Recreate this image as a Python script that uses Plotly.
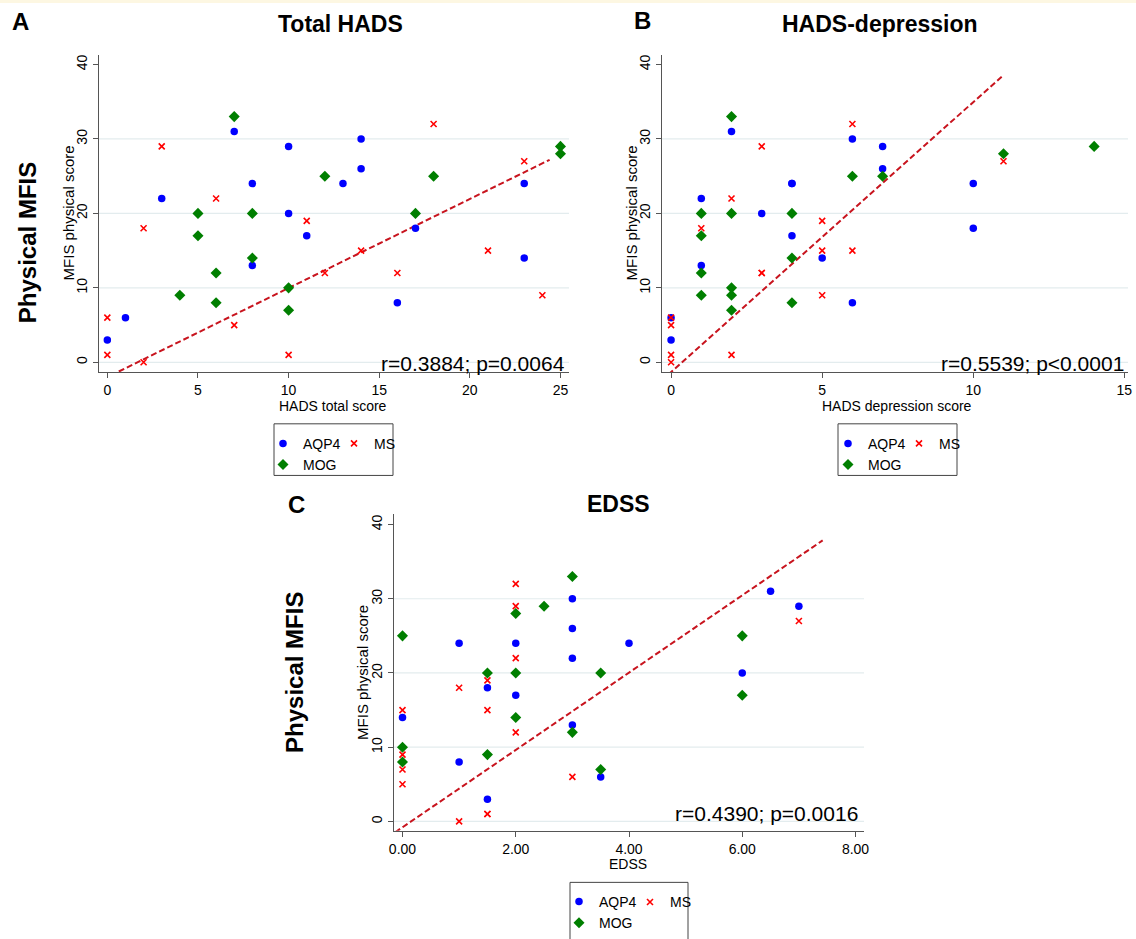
import plotly.graph_objects as go

W, H = 1136, 939

# ---------------- data ----------------
# Panel A: HADS total score vs MFIS physical score
a_aqp4_x = [0, 1, 3, 7, 8, 8, 10, 10, 11, 13, 14, 14, 16, 17, 23, 23]
a_aqp4_y = [3, 6, 22, 31, 24, 13, 29, 20, 17, 24, 30, 26, 8, 18, 24, 14]
a_mog_x = [4, 5, 5, 6, 6, 7, 8, 8, 10, 10, 12, 17, 18, 25, 25]
a_mog_y = [9, 20, 17, 12, 8, 33, 20, 14, 10, 7, 25, 20, 25, 29, 28]
a_ms_x = [0, 0, 2, 2, 3, 6, 7, 10, 11, 12, 14, 16, 18, 21, 23, 24]
a_ms_y = [6, 1, 18, 0, 29, 22, 5, 1, 19, 12, 15, 12, 32, 15, 27, 9]
a_fit_x = [-0.26, 24.4]
a_fit_y = [-2.3, 27.2]

# Panel B: HADS depression score vs MFIS physical score
b_aqp4_x = [0, 0, 1, 1, 2, 3, 4, 4, 4, 5, 6, 6, 7, 7, 10, 10]
b_aqp4_y = [6, 3, 22, 13, 31, 20, 24, 24, 17, 14, 30, 8, 29, 26, 24, 18]
b_mog_x = [1, 1, 1, 1, 2, 2, 2, 2, 2, 4, 4, 4, 6, 7, 11, 14]
b_mog_y = [20, 17, 12, 9, 33, 20, 10, 9, 7, 20, 14, 8, 25, 25, 28, 29]
b_ms_x = [0, 0, 0, 0, 1, 2, 2, 3, 3, 3, 5, 5, 5, 6, 6, 11]
b_ms_y = [6, 5, 1, 0, 18, 22, 1, 29, 12, 12, 19, 15, 9, 32, 15, 27]
b_fit_x = [-0.31, 10.94]
b_fit_y = [-2.44, 38.36]

# Panel C: EDSS vs MFIS physical score
c_aqp4_x = [0, 1, 1, 1.5, 1.5, 2, 2, 3, 3, 3, 3, 3.5, 4, 6, 6.5, 7]
c_aqp4_y = [14, 24, 8, 18, 3, 24, 17, 30, 26, 22, 13, 6, 24, 20, 31, 29]
c_mog_x = [0, 0, 0, 1.5, 1.5, 2, 2, 2, 2.5, 3, 3, 3.5, 3.5, 6, 6]
c_mog_y = [25, 10, 8, 20, 9, 28, 20, 14, 29, 33, 12, 20, 7, 25, 17]
c_ms_x = [0, 0, 0, 0, 1, 1, 1.5, 1.5, 1.5, 1.5, 2, 2, 2, 2, 3, 7]
c_ms_y = [15, 9, 7, 5, 18, 0, 19, 15, 1, 1, 32, 29, 22, 12, 6, 27]
c_fit_x = [-0.13, 7.42]
c_fit_y = [-1.47, 37.86]

group_names = ["AQP4", "MOG", "MS"]
a_xticks = [0, 5, 10, 15, 20, 25]
b_xticks = [0, 5, 10, 15]
c_xticks = [0, 2, 4, 6, 8]
c_xticklabels = ["0.00", "2.00", "4.00", "6.00", "8.00"]
y_ticks = [0, 10, 20, 30, 40]
grid_vals = [0, 10, 20, 30]

titles = ["Total HADS", "HADS-depression", "EDSS"]
letters = ["A", "B", "C"]
x_titles = ["HADS total score", "HADS depression score", "EDSS"]
y_title = "MFIS physical score"
big_label = "Physical MFIS"
stats = ["r=0.3884; p=0.0064", "r=0.5539; p<0.0001", "r=0.4390; p=0.0016"]

# ---------------- styling ----------------
FONT = "Liberation Sans, Arial, Helvetica, sans-serif"
BLUE = "#0000ff"
GREEN = "#007f00"
RED = "#ff0000"
FIT = "#c8141e"
AXC = "#555555"
GRIDC = "#e3ecee"


def px(x):
    return x / W


def py(y):
    return 1 - y / H


panels = [
    dict(xs=[a_aqp4_x, a_mog_x, a_ms_x], ys=[a_aqp4_y, a_mog_y, a_ms_y],
         fx=a_fit_x, fy=a_fit_y, dom=(99, 569, 55, 375), xr=[-0.46, 25.47],
         yr=[-1.33, 41.33], xt=a_xticks, xtl=[str(v) for v in a_xticks]),
    dict(xs=[b_aqp4_x, b_mog_x, b_ms_x], ys=[b_aqp4_y, b_mog_y, b_ms_y],
         fx=b_fit_x, fy=b_fit_y, dom=(662, 1128, 55, 375), xr=[-0.30, 15.12],
         yr=[-1.33, 41.33], xt=b_xticks, xtl=[str(v) for v in b_xticks]),
    dict(xs=[c_aqp4_x, c_mog_x, c_ms_x], ys=[c_aqp4_y, c_mog_y, c_ms_y],
         fx=c_fit_x, fy=c_fit_y, dom=(394, 864, 518, 837), xr=[-0.15, 8.15],
         yr=[-1.26, 41.4], xt=c_xticks, xtl=c_xticklabels),
]

marker_styles = [
    dict(symbol="circle", size=7.5, color=BLUE, line=dict(width=0)),
    dict(symbol="diamond", size=8.5, color=GREEN, line=dict(width=0)),
    dict(symbol="x-thin", size=6, color=RED, line=dict(width=1.6, color=RED)),
]

fig = go.Figure()
layout = dict(
    width=W, height=H, margin=dict(l=0, r=0, t=0, b=0),
    paper_bgcolor="white", plot_bgcolor="white",
    font=dict(family=FONT, color="black", size=14),
    showlegend=True, hovermode=False,
)
shapes = []
annotations = []

# legend placement (px): (left of column1, top), (left of column2, top)
legend_pos = [
    ((263, 431), (334, 431)),
    ((828, 431), (899, 431)),
    ((559, 893), (630, 893)),
]
legend_boxes = [(274, 427, 393, 479), (838, 427, 957, 479), (570, 889, 688, 950)]

for i, p in enumerate(panels):
    sfx = "" if i == 0 else str(i + 1)
    xa, ya = "x" + sfx, "y" + sfx
    l1 = "legend" if i == 0 else "legend" + str(2 * i + 1)
    l2 = "legend" + str(2 * i + 2)
    x0, x1, y0, y1 = p["dom"]
    fig.add_trace(go.Scatter(x=p["fx"], y=p["fy"], mode="lines", xaxis=xa, yaxis=ya,
                             line=dict(color=FIT, width=2, dash="6px,3px"),
                             showlegend=False, hoverinfo="skip"))
    for g in range(3):
        fig.add_trace(go.Scatter(
            x=p["xs"][g], y=p["ys"][g], mode="markers", name=group_names[g],
            xaxis=xa, yaxis=ya, marker=marker_styles[g], cliponaxis=False,
            legend=(l2 if g == 2 else l1), showlegend=True))
    layout["xaxis" + sfx] = dict(
        domain=[px(x0), px(x1)], range=p["xr"], anchor=ya,
        tickmode="array", tickvals=p["xt"], ticktext=p["xtl"],
        showline=True, linecolor=AXC, linewidth=1.2, ticks="outside",
        ticklen=5, tickcolor=AXC, showgrid=False, zeroline=False,
        tickfont=dict(size=14, family=FONT), automargin=False)
    layout["yaxis" + sfx] = dict(
        domain=[py(y1), py(y0)], range=p["yr"], anchor=xa,
        tickmode="array", tickvals=y_ticks, tickangle=-90,
        showline=True, linecolor=AXC, linewidth=1.2, ticks="outside",
        ticklen=5, tickcolor=AXC, showgrid=False, zeroline=False,
        tickfont=dict(size=14, family=FONT), automargin=False)
    for gv in grid_vals:
        shapes.append(dict(type="line", xref=xa + " domain", yref=ya,
                           x0=0, x1=1, y0=gv, y1=gv,
                           line=dict(color=GRIDC, width=1.2), layer="below"))
    (lx1, ly1), (lx2, ly2) = legend_pos[i]
    for key, (lx, ly) in ((l1, (lx1, ly1)), (l2, (lx2, ly2))):
        layout[key] = dict(x=px(lx), y=py(ly), xanchor="left", yanchor="top",
                           orientation="v", bgcolor="rgba(0,0,0,0)", borderwidth=0,
                           font=dict(size=14, family=FONT), itemwidth=30,
                           tracegroupgap=0)
    bx0, by0, bx1, by1 = legend_boxes[i]
    shapes.append(dict(type="rect", xref="paper", yref="paper",
                       x0=px(bx0), x1=px(bx1), y0=py(by1), y1=py(by0),
                       line=dict(color="#444444", width=1), fillcolor="rgba(0,0,0,0)"))

# pale band along the top edge
shapes.append(dict(type="rect", xref="paper", yref="paper", x0=0, x1=1,
                   y0=py(3), y1=1, line=dict(width=0), fillcolor="#fdf7e2"))


def ann(text, x, y, size, bold=False, angle=0, xanchor="center", yanchor="middle"):
    annotations.append(dict(
        text=("<b>%s</b>" % text) if bold else text, x=px(x), y=py(y),
        xref="paper", yref="paper", showarrow=False, textangle=angle,
        xanchor=xanchor, yanchor=yanchor,
        font=dict(size=size, family=FONT, color="black")))


letter_pos = [(20, 22), (642, 21), (296, 508)]
title_pos = [(340, 24), (880, 24), (618, 508)]
xtitle_pos = [(333, 409), (897, 409), (628, 870)]
ytitle_pos = [(68, 215), (631, 215), (363, 678)]
big_pos = [(27, 245), None, (295, 678)]
stat_pos = [(567, 366), (1126, 366), (860, 820)]

for i in range(3):
    ann(letters[i], *letter_pos[i], 24, bold=True)
    ann(titles[i], *title_pos[i], 23, bold=True)
    ann(x_titles[i], *xtitle_pos[i], 14)
    ann(y_title, *ytitle_pos[i], 15, angle=-90)
    if big_pos[i] is not None:
        ann(big_label, *big_pos[i], 24, bold=True, angle=-90)
    ann(stats[i], *stat_pos[i], 21, xanchor="right")

layout["shapes"] = shapes
layout["annotations"] = annotations
fig.update_layout(**layout)
fig.write_html(
    "out.html",
    config={"displayModeBar": False, "staticPlot": True},
    post_script=(
        "document.documentElement.style.margin='0px';"
        "document.body.style.margin='0px';"
        "document.body.style.overflow='hidden';"
        "var gd=document.getElementById('{plot_id}');"
        "gd.style.position='fixed';gd.style.left='0px';gd.style.top='0px';"
    ),
)
